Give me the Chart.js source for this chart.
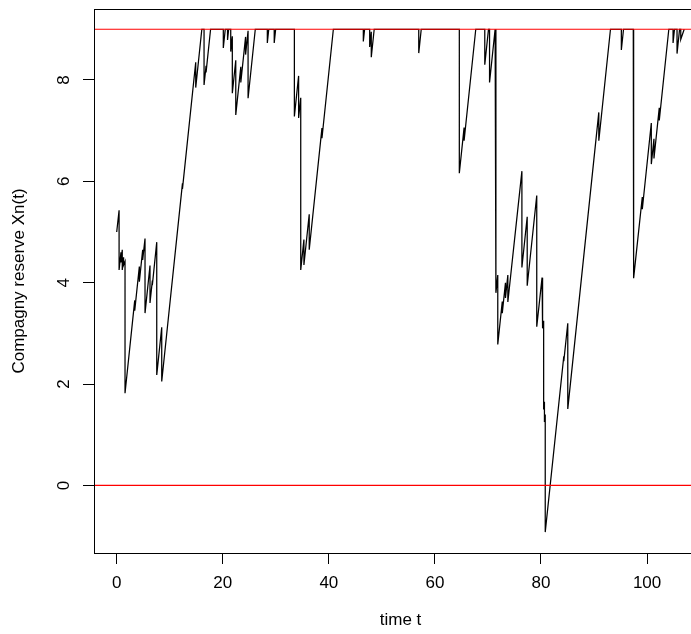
<!DOCTYPE html>
<html>
<head>
<meta charset="utf-8">
<script src="https://cdn.jsdelivr.net/npm/chart.js@4/dist/chart.umd.min.js"></script>
<style>
  html, body { margin: 0; padding: 0; overflow: hidden; background: #fff; width: 691px; height: 634px; }
  canvas { display: block; }
</style>
</head>
<body>
<canvas id="reserve-graph" width="708" height="634"></canvas>
<script>
// sample path of the capped reserve process
const times = [
  0, 0.45, 0.45, 0.8, 0.8, 1.05, 1.05, 1.3, 1.3, 1.57, 1.57,
  3.4, 3.4, 4.27, 4.27, 4.9, 4.9, 5.34, 5.34, 6.28, 6.28, 6.72, 6.72, 7.55, 7.55, 8.49, 8.49,
  12.4, 12.4, 14.9, 14.9, 16.05, 16.47, 16.47, 16.85, 16.85, 17.7,
  20.1, 20.1, 20.47, 20.9, 20.9, 21.11, 21.5, 21.5, 21.8, 21.8, 22.45, 22.45,
  23.4, 23.4, 24.3, 24.3, 24.77, 24.77, 26.13, 28.4, 28.4, 28.67, 29.7, 29.7, 29.97,
  33.5, 33.5, 34.3, 34.3, 34.7, 34.7, 35.3, 35.3, 36.3, 36.3, 38.7, 38.7, 40.85,
  46.5, 46.5, 46.74, 47.7, 47.7, 48.0, 48.0, 48.55, 56.95, 56.95, 57.42,
  64.6, 64.6, 65.5, 65.5, 67.7, 69.4, 69.4, 70.1, 70.3, 70.3, 71.35,
  71.5, 71.5, 71.85, 71.85, 72.7, 72.7, 73.3, 73.3, 73.75, 73.75, 76.4, 76.4,
  77.4, 77.4, 79.2, 79.2, 80.2, 80.2, 80.35, 80.35, 80.5, 80.5, 80.65, 80.65, 80.8, 80.8,
  84.3, 84.3, 85.05, 85.05, 90.9, 90.9, 93.1, 95.15, 95.15, 95.56,
  97.4, 97.4, 97.5, 97.5, 99.1, 99.1, 100.8, 100.8, 101.3, 101.3, 102.3, 102.3, 104.1,
  104.9, 104.9, 105.17, 105.65, 105.65, 106.13, 106.35, 106.35, 107.0
];
const reserve = [
  5.0, 5.43, 4.25, 4.6, 4.4, 4.65, 4.25, 4.5, 4.35, 4.42, 1.82,
  3.65, 3.45, 4.32, 4.02, 4.65, 4.45, 4.87, 3.4, 4.34, 3.6, 4.04, 3.95, 4.8, 2.18, 3.12, 2.05,
  5.96, 5.85, 8.35, 7.85, 9, 9, 7.9, 8.28, 8.15, 9,
  9, 8.63, 9, 9, 8.79, 9, 9, 8.56, 8.86, 7.74, 8.39, 7.31,
  8.26, 7.95, 8.85, 8.5, 8.97, 7.64, 9, 9, 8.73, 9, 9, 8.73, 9,
  9, 7.28, 8.08, 7.25, 7.65, 4.25, 4.85, 4.35, 5.35, 4.65, 7.05, 6.85, 9,
  9, 8.76, 9, 9, 8.65, 8.95, 8.45, 9, 9, 8.53, 9,
  9, 6.16, 7.06, 6.8, 9, 9, 8.3, 9, 9, 7.95, 9,
  9, 3.8, 4.15, 2.78, 3.63, 3.4, 4.0, 3.7, 4.15, 3.62, 6.2, 4.3,
  5.3, 3.94, 5.72, 3.13, 4.1, 3.55, 3.7, 3.1, 3.25, 1.5, 1.65, 1.25, 1.4, -0.92,
  2.55, 2.45, 3.2, 1.51, 7.36, 6.8, 9, 9, 8.59, 9,
  9, 5.18, 5.28, 4.09, 5.69, 5.45, 7.15, 6.34, 6.84, 6.45, 7.45, 7.2, 9,
  9, 8.73, 9, 9, 8.52, 9, 9, 8.8, 9
];
const capLevel = 9;
const ruinLevel = 0;
const xTicks = [0, 20, 40, 60, 80, 100];
const yTicks = [0, 2, 4, 6, 8];

const xMin = -4.28, xMax = 111.3;
const yMin = -1.333, yMax = 9.4;
const font = { family: 'Liberation Sans, Arial, sans-serif', size: 17 };

const ctx = document.getElementById('reserve-graph');

// R style box round the plot region
const boxPlugin = {
  id: 'box',
  afterDraw(chart) {
    const a = chart.chartArea;
    const c = chart.ctx;
    c.save();
    c.strokeStyle = '#000';
    c.lineWidth = 1;
    c.strokeRect(Math.round(a.left) + 0.5, Math.round(a.top) + 0.5,
      Math.round(a.right - a.left), Math.round(a.bottom - a.top));
    c.restore();
  }
};

const hline = (level) => [{ x: xMin, y: level }, { x: xMax, y: level }];

new Chart(ctx, {
  type: 'scatter',
  data: {
    datasets: [
      { data: hline(capLevel), showLine: true, borderColor: '#ff0000', borderWidth: 1.2, pointRadius: 0 },
      { data: hline(ruinLevel), showLine: true, borderColor: '#ff0000', borderWidth: 1.2, pointRadius: 0 },
      {
        data: times.map((t, i) => ({ x: t, y: reserve[i] })),
        showLine: true,
        borderColor: '#000',
        borderWidth: 1.25,
        pointRadius: 0,
        tension: 0
      }
    ]
  },
  options: {
    responsive: false,
    animation: false,
    devicePixelRatio: 1,
    layout: { padding: { top: 9, right: 1, left: 0, bottom: 0 } },
    plugins: { legend: { display: false }, tooltip: { enabled: false } },
    scales: {
      x: {
        type: 'linear',
        min: xMin,
        max: xMax,
        afterFit: s => { s.height = 81; s.paddingLeft = 0; s.paddingRight = 0; },
        afterBuildTicks: s => { s.ticks = xTicks.map(v => ({ value: v })); },
        grid: { drawOnChartArea: false, drawTicks: true, tickLength: 11, tickColor: '#000', color: '#000' },
        border: { display: false },
        ticks: { color: '#000', font: font, padding: 9, maxRotation: 0 },
        title: { display: true, text: 'time t', color: '#000', font: font, padding: { top: 0, bottom: 3 } }
      },
      y: {
        type: 'linear',
        min: yMin,
        max: yMax,
        afterFit: s => { s.width = 94; s.paddingTop = 0; s.paddingBottom = 0; },
        afterBuildTicks: s => { s.ticks = yTicks.map(v => ({ value: v })); },
        grid: { drawOnChartArea: false, drawTicks: true, tickLength: 11, tickColor: '#000', color: '#000' },
        border: { display: false },
        ticks: { color: '#000', font: font, minRotation: 90, maxRotation: 90, crossAlign: 'center', padding: 14 },
        title: { display: true, text: 'Compagny reserve Xn(t)', color: '#000', font: font, padding: { top: 9, bottom: 0 } }
      }
    }
  },
  plugins: [boxPlugin]
});
</script>
</body>
</html>
